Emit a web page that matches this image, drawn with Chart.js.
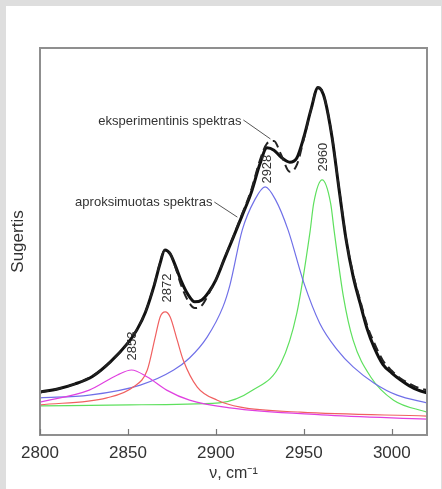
<!DOCTYPE html>
<html><head><meta charset="utf-8">
<script src="https://cdn.jsdelivr.net/npm/chart.js@4.4.1/dist/chart.umd.min.js"></script>
<style>
html,body{margin:0;padding:0;background:#dedede;width:442px;height:489px;overflow:hidden;}
#card{position:absolute;left:6px;top:6px;width:435px;height:483px;background:#fff;}
#wrap{position:absolute;left:0;top:0;width:442px;height:489px;}
</style></head><body>
<div id="card"></div>
<div id="wrap"><canvas id="c" width="442" height="489"></canvas></div>
<script>
// ---- data (wavenumber cm-1, absorbance arbitrary units) ----
const xTicks = [2800, 2850, 2900, 2950, 3000];

// approximated (fitted) spectrum - solid black
const fitV = [2800,2810,2820,2830,2840,2850,2855,2860,2865,2868,2871,2874,2877,2880,2884,2888,2892,2896,2900,2905,2910,2915,2920,2925,2929,2933,2937,2942,2946,2950,2954,2958,2960,2962,2966,2970,2974,2978,2982,2986,2990,2995,3000,3005,3010,3015,3020];
const fitA = [11.1,11.9,13.2,15.2,18.9,23.8,27.1,31.8,38.8,43.9,47.8,46.8,43.7,40.1,36.4,34.4,34.9,37.0,40.1,45.7,51.2,56.8,62.5,70.0,74.2,73.6,71.8,70.5,71.6,77.0,84.0,89.7,89.1,86.6,77.0,63.5,50.5,41.0,34.0,27.4,22.6,18.2,16.0,14.2,12.7,11.6,10.9];

// experimental spectrum - dashed black
const expV = [2800,2810,2820,2830,2840,2850,2855,2860,2865,2868,2871,2874,2877,2880,2884,2888,2892,2896,2900,2905,2910,2915,2920,2925,2929,2933,2937,2942,2946,2950,2954,2958,2960,2962,2966,2970,2974,2978,2982,2986,2990,2995,3000,3005,3010,3015,3020];
const expA = [11.0,11.9,13.2,15.3,18.9,23.9,27.2,31.9,38.9,44.1,47.9,46.9,43.3,39.0,34.8,32.8,33.5,36.6,40.1,45.8,51.4,57.2,63.2,71.0,75.3,76.0,72.5,68.0,69.8,76.5,84.0,89.9,89.3,86.6,77.2,63.7,50.8,41.6,34.8,28.3,23.8,19.2,16.6,14.6,13.3,12.2,11.6];

// component bands
const band2853V = [2800,2828,2844,2852,2861,2872,2885,2908,2960,3020];
const band2853A = [8.5,11.6,15.5,16.8,15.0,11.6,9.0,7.0,5.2,4.1];

const band2872V = [2800,2838,2853,2861,2865.5,2868.3,2871.2,2874,2878,2881.4,2889.4,2900.8,2914,2948,3020];
const band2872A = [7.8,9.6,12.4,16.8,25.3,30.5,31.8,30.5,24.5,19.4,12.4,9.0,7.2,5.9,4.9];

const band2928V = [2800,2828,2857,2876,2885,2895,2904,2908,2915,2922,2928,2934,2941,2950,2959,2969,2978,2990,3003,3020];
const band2928A = [9.6,10.3,12.9,16.8,19.9,25.3,33.1,38.8,53.0,60.7,64.1,60.7,53.0,39.3,28.9,22.0,17.6,13.4,10.3,8.3];

const band2960V = [2800,2851,2902,2921,2937,2946,2953.5,2955.6,2960.4,2965.2,2967.3,2972.5,2978,2988,3001,3020];
const band2960A = [7.5,7.8,8.3,11.6,18.6,31.5,52.5,59.9,65.9,59.9,52.5,35.7,24.5,15.0,9.0,5.9];

// text annotations (data coordinates)
const peakLabels = ['2853', '2872', '2928', '2960'];
const peakLabelV = [2852.8, 2872.3, 2929.3, 2961.2];
const peakLabelA = [23.0, 38.0, 68.7, 71.8];

const calloutText = ['eksperimentinis spektras', 'aproksimuotas spektras'];
const calloutV = [2914.5, 2898];
const calloutA = [80.9, 60.2];
const leaderFromV = [2915.6, 2899.1];
const leaderFromA = [81.4, 60.2];
const leaderToV = [2931.0, 2912.2];
const leaderToA = [76.5, 56.3];

const FONT = "'Liberation Sans', Arial, sans-serif";
const pts = (vs, as) => vs.map((v, i) => ({x: v, y: as[i]}));

const band = (label, vs, as, color) => ({
  label, data: pts(vs, as), borderColor: color, borderWidth: 1.2,
  pointRadius: 0, fill: false, cubicInterpolationMode: 'monotone'
});

const decor = {
  id: 'decor',
  afterDatasetsDraw(chart) {
    const {ctx, scales: {x, y}} = chart;
    ctx.save();
    ctx.fillStyle = '#333';
    ctx.font = '13px ' + FONT;
    ctx.textBaseline = 'middle';
    ctx.textAlign = 'center';
    peakLabels.forEach((t, i) => {
      ctx.save();
      ctx.translate(x.getPixelForValue(peakLabelV[i]), y.getPixelForValue(peakLabelA[i]));
      ctx.rotate(-Math.PI / 2);
      ctx.fillText(t, 0, 0);
      ctx.restore();
    });
    ctx.textAlign = 'right';
    calloutText.forEach((t, i) => {
      ctx.fillText(t, x.getPixelForValue(calloutV[i]), y.getPixelForValue(calloutA[i]));
      ctx.strokeStyle = '#555';
      ctx.lineWidth = 1;
      ctx.beginPath();
      ctx.moveTo(x.getPixelForValue(leaderFromV[i]), y.getPixelForValue(leaderFromA[i]));
      ctx.lineTo(x.getPixelForValue(leaderToV[i]), y.getPixelForValue(leaderToA[i]));
      ctx.stroke();
    });
    ctx.restore();
  },
  afterDraw(chart) {
    const {ctx, chartArea: a, scales: {x}} = chart;
    ctx.save();
    ctx.strokeStyle = '#8f8f8f';
    ctx.lineWidth = 2;
    ctx.strokeRect(a.left, a.top, a.right - a.left, a.bottom - a.top);
    ctx.lineWidth = 1.2;
    ctx.strokeStyle = '#777';
    xTicks.forEach(v => {
      const px = Math.round(x.getPixelForValue(v)) + 0.5;
      ctx.beginPath();
      ctx.moveTo(px, a.bottom);
      ctx.lineTo(px, a.bottom - 6);
      ctx.stroke();
    });
    ctx.restore();
  }
};

new Chart(document.getElementById('c'), {
  type: 'line',
  data: {
    datasets: [
      {label: 'eksperimentinis spektras', data: pts(expV, expA), borderColor: '#222', borderWidth: 2,
       borderDash: [9, 5], pointRadius: 0, fill: false, cubicInterpolationMode: 'monotone'},
      {label: 'aproksimuotas spektras', data: pts(fitV, fitA), borderColor: '#111', borderWidth: 3,
       pointRadius: 0, fill: false, cubicInterpolationMode: 'monotone'},
      band('2853', band2853V, band2853A, '#e040e0'),
      band('2872', band2872V, band2872A, '#f06060'),
      band('2928', band2928V, band2928A, '#7070e8'),
      band('2960', band2960V, band2960A, '#5ee05e')
    ]
  },
  options: {
    responsive: false,
    animation: false,
    devicePixelRatio: 1,
    layout: {padding: {top: 48, right: 15, left: 0, bottom: 0}},
    plugins: {legend: {display: false}, tooltip: {enabled: false}},
    scales: {
      x: {
        type: 'linear', min: 2800, max: 3020,
        afterBuildTicks: s => { s.ticks = xTicks.map(v => ({value: v})); },
        afterFit: s => { s.height = 54; },
        grid: {display: false, drawTicks: false},
        border: {display: false},
        ticks: {font: {size: 17, family: FONT}, color: '#333', padding: 8, maxRotation: 0,
                callback: v => String(v)},
        title: {display: true, text: 'ν, cm⁻¹', font: {size: 16, family: FONT}, color: '#333',
                padding: {top: 0, bottom: 6}}
      },
      y: {
        min: 0, max: 100,
        afterFit: s => { s.width = 40; },
        grid: {display: false, drawTicks: false},
        border: {display: false},
        ticks: {display: false},
        title: {display: true, text: 'Sugertis', font: {size: 17, family: FONT}, color: '#333',
                padding: {top: 8, bottom: 0}}
      }
    }
  },
  plugins: [decor]
});
</script>
</body></html>
